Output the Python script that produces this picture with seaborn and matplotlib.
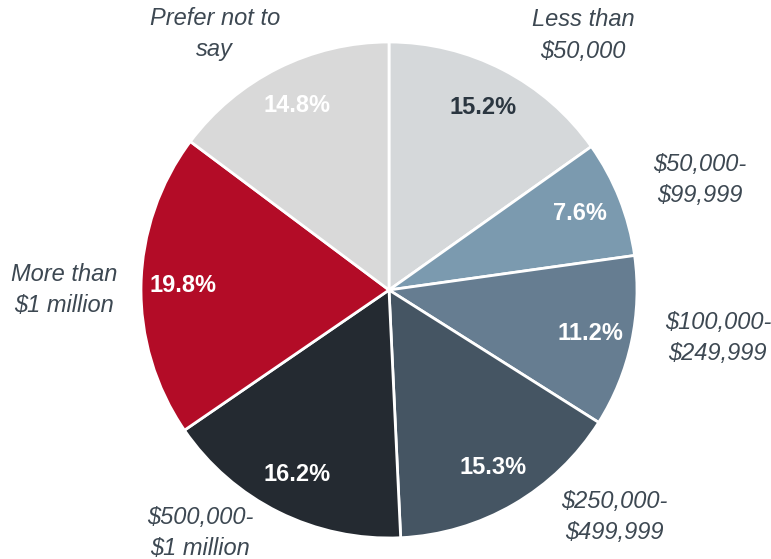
import matplotlib
matplotlib.use("Agg")
import matplotlib.pyplot as plt
import seaborn as sns
import numpy as np

# dados
categories = ["Less than\n$50,000", "$50,000-\n$99,999", "$100,000-\n$249,999",
              "$250,000-\n$499,999", "$500,000-\n$1 million", "More than\n$1 million",
              "Prefer not to\nsay"]
shares = [15.2, 7.6, 11.2, 15.3, 16.2, 19.8, 14.8]
colors = ["#d5d8da", "#7b9aaf", "#667d91", "#455563", "#242a31", "#b30c27", "#d9d9d9"]
pct_colors = ["#2b3640", "white", "white", "white", "white", "white", "white"]

# posicao dos rotulos externos (raio, angulo em graus)
label_pos = [(1.29, 52.7), (1.33, 19.5), (1.34, -8.3), (1.29, -45.3),
             (1.24, -127.9), (1.31, 180.0), (1.25, 124.2)]

sns.set_theme(style="white")
plt.rcParams['font.family'] = ['Liberation Sans', 'DejaVu Sans']

W, H = 771, 559
cx, cy, R = 389, 290, 248

fig = plt.figure(figsize=(W / 100, H / 100), dpi=100)
ax = fig.add_axes([0, 0, 1, 1])

wedges, texts, autotexts = ax.pie(
    shares, labels=categories, colors=sns.color_palette(colors),
    startangle=90, counterclock=False, autopct='%.1f%%', pctdistance=0.83,
    wedgeprops=dict(edgecolor='white', linewidth=2),
    textprops=dict(fontsize=17))

for t, (r, ang) in zip(texts, label_pos):
    a = np.deg2rad(ang)
    t.set_position((r * np.cos(a), r * np.sin(a)))
    t.set_ha('center')
    t.set_va('center')
    t.set_style('italic')
    t.set_color('#3d4852')
    t.set_linespacing(1.45)

for t, c in zip(autotexts, pct_colors):
    t.set_color(c)
    t.set_fontweight('bold')
    t.set_fontsize(17)

ax.set_xlim(-cx / R, (W - cx) / R)
ax.set_ylim(-(H - cy) / R, cy / R)
ax.set_aspect('equal')
ax.axis('off')

fig.savefig("out.png", dpi=100)
